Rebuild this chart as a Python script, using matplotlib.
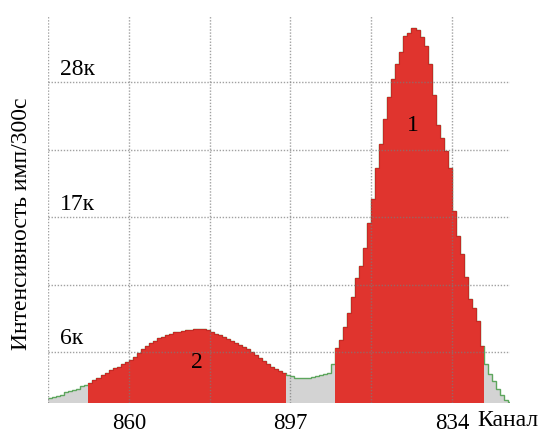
import numpy as np
import matplotlib
matplotlib.use('Agg')
import matplotlib.pyplot as plt

plt.rcParams['font.family'] = ['Liberation Serif', 'DejaVu Serif']

# counts per channel, thousands of impulses / 300 s
counts = [
    2.2, 2.3, 2.4, 2.5, 2.7, 2.8, 2.9, 3.0, 3.2, 3.3,
    3.5, 3.7, 3.9, 4.1, 4.3, 4.5, 4.7, 4.8, 5.0, 5.2,
    5.35, 5.6, 5.9, 6.2, 6.5, 6.7, 6.9, 7.1, 7.2, 7.35,
    7.5, 7.6, 7.65, 7.7, 7.75, 7.8, 7.85, 7.9, 7.85, 7.75,
    7.6, 7.5, 7.35, 7.2, 7.05, 6.9, 6.75, 6.6, 6.4, 6.2,
    6.0, 5.75, 5.5, 5.25, 5.0, 4.8, 4.6, 4.45, 4.3, 4.15,
    4.0, 3.9, 3.85, 3.85, 3.9, 3.95, 4.0, 4.1, 4.2, 4.3,
    5.0, 6.3, 7.0, 8.0, 9.2, 10.5, 12.0, 13.0, 14.5, 16.5,
    18.5, 21.0, 23.0, 25.0, 26.8, 28.3, 29.5, 30.5, 31.8, 32.0,
    32.4, 32.3, 31.7, 31.0, 29.5, 27.0, 24.5, 23.5, 22.4, 21.0,
    17.5, 15.5, 14.0, 12.1, 10.3, 9.6, 8.5, 6.5, 5.0, 4.2,
    3.6, 3.0, 2.5, 2.1, 1.9,
]
peak2 = (10, 59)   # channel range of peak 2 (start, stop)
peak1 = (71, 108)  # channel range of peak 1

xtick_pos = [20, 60, 100]
xtick_labels = ['860', '897', '834']
ytick_vals = [6, 17, 28]
ytick_labels = ['6к', '17к', '28к']
grid_x = [0, 20, 40, 60, 80, 100]
grid_y = [6, 11.5, 17, 22.5, 28]

counts = np.array(counts)
edges = np.arange(len(counts) + 1)
ymin, ymax = 1.83, 33.5

fig = plt.figure(figsize=(5.41, 4.34), dpi=100)
ax = fig.add_axes([48/541, 31/434, 462/541, 388/434])

RED = '#E0342E'
GRAY = '#D3D3D3'
GREEN = '#5DA65D'

# whole spectrum in gray + green outline
ax.stairs(counts, edges, fill=True, baseline=ymin, color=GRAY, zorder=1)
ax.stairs(counts, edges, baseline=None, color=GREEN, lw=1.0, zorder=2)

# the two peaks in red
for a, b in (peak2, peak1):
    ax.stairs(counts[a:b], edges[a:b+1], fill=True, baseline=ymin,
              color=RED, zorder=3)
    ax.stairs(counts[a:b], edges[a:b+1], baseline=None,
              color='#C42A25', lw=0.8, zorder=3)

for gx in grid_x:
    ax.axvline(gx, color='#7A7A7A', ls=(0, (1, 1.2)), lw=1.0, alpha=0.7, zorder=4)
for gy in grid_y:
    ax.axhline(gy, color='#7A7A7A', ls=(0, (1, 1.2)), lw=1.0, alpha=0.7, zorder=4)

ax.set_xlim(0, 114.4)
ax.set_ylim(ymin, ymax)
for s in ax.spines.values():
    s.set_visible(False)
ax.set_yticks([])
ax.set_xticks(xtick_pos, xtick_labels, fontsize=16.5)
ax.tick_params(axis='x', length=0, pad=7)

for v, lab in zip(ytick_vals, ytick_labels):
    ax.text(3, v + 0.2, lab, fontsize=17, ha='left', va='bottom', zorder=5)

ax.text(90.3, 24.5, '1', fontsize=17, ha='center', va='center', zorder=5)
ax.text(36.9, 5.1, '2', fontsize=17, ha='center', va='center', zorder=5)

fig.text(477/541, 1 - 421/434, 'Канал', fontsize=17, ha='left', va='center')
fig.text(22/541, 1 - 224/434, 'Интенсивность имп/300с', fontsize=17,
         rotation=90, ha='center', va='center')

fig.savefig('out.png', dpi=100)
